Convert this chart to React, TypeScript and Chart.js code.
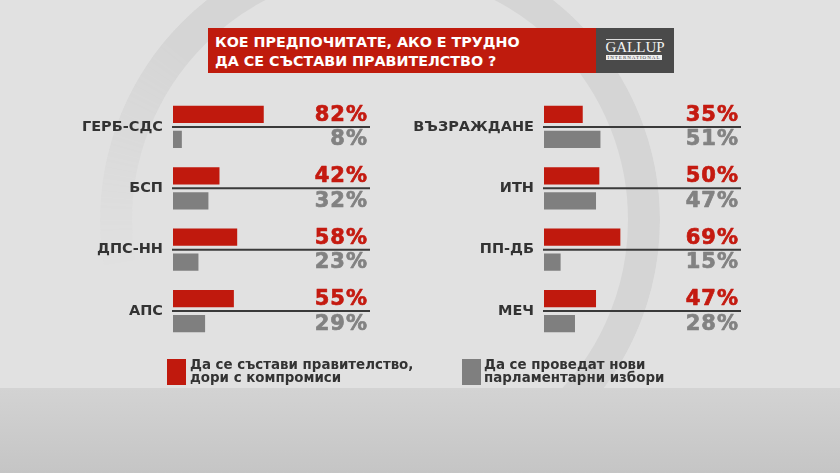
import React, { useEffect, useRef } from 'react';
import { Chart, registerables } from 'chart.js';

Chart.register(...registerables);

// ---- data ----
const leftParties = ['ГЕРБ-СДС', 'БСП', 'ДПС-НН', 'АПС'];
const leftGovernment = [82, 42, 58, 55];
const leftElections = [8, 32, 23, 29];

const rightParties = ['ВЪЗРАЖДАНЕ', 'ИТН', 'ПП-ДБ', 'МЕЧ'];
const rightGovernment = [35, 50, 69, 47];
const rightElections = [51, 47, 15, 28];

const seriesNames = ['Да се състави правителство, дори с компромиси', 'Да се проведат нови парламентарни избори'];
const legendLines = [['Да се състави правителство,', 'дори с компромиси'], ['Да се проведат нови', 'парламентарни избори']];
const titleLines = ['КОЕ ПРЕДПОЧИТАТЕ, АКО Е ТРУДНО', 'ДА СЕ СЪСТАВИ ПРАВИТЕЛСТВО ?'];

// ---- styles ----
const RED = '#c0190d';
const GRAY = '#7f7f7f';
const RED_TEXT = '#c41a10';
const GRAY_TEXT = '#828282';
const LINE = '#3a3a3a';
const LABEL = '#333333';
const X_MAX = 178;
const FONT = '"DejaVu Sans", sans-serif';

const percentPlugin = {
  id: 'percentLabels',
  afterDatasetsDraw(chart: any) {
    const { ctx, chartArea, scales } = chart;
    const y = scales.y;
    ctx.save();
    chart.data.labels.forEach((_: any, i: number) => {
      const py = y.getPixelForValue(i);
      ctx.strokeStyle = LINE;
      ctx.lineWidth = 2;
      ctx.beginPath();
      ctx.moveTo(chartArea.left - 1, py);
      ctx.lineTo(chartArea.right, py);
      ctx.stroke();
    });
    ctx.font = `bold 21px ${FONT}`;
    try { (ctx as any).letterSpacing = '1px'; } catch (e) {}
    ctx.textAlign = 'right';
    ctx.textBaseline = 'alphabetic';
    ctx.lineWidth = 0.7;
    ctx.lineJoin = 'round';
    chart.data.datasets.forEach((ds: any, di: number) => {
      ds.data.forEach((v: number, i: number) => {
        const py = y.getPixelForValue(i);
        const c = di === 0 ? RED_TEXT : GRAY_TEXT;
        ctx.fillStyle = c;
        ctx.strokeStyle = c;
        const ty = di === 0 ? py - 6 : py + 18.5;
        ctx.fillText(v + '%', chartArea.right - 2, ty);
        ctx.strokeText(v + '%', chartArea.right - 2, ty);
      });
    });
    ctx.restore();
  },
};

function makeConfig(labels: string[], gov: number[], elect: number[], yWidth: number, padRight: number): any {
  return {
    type: 'bar',
    data: {
      labels,
      datasets: [
        { label: seriesNames[0], data: gov, backgroundColor: RED, categoryPercentage: 0.815, barPercentage: 0.69 },
        { label: seriesNames[1], data: elect, backgroundColor: GRAY, categoryPercentage: 0.815, barPercentage: 0.69 },
      ],
    },
    options: {
      indexAxis: 'y',
      responsive: false,
      animation: false,
      devicePixelRatio: 1,
      layout: { padding: { left: 0, right: padRight, top: 6.3, bottom: 18.3 } },
      plugins: { legend: { display: false }, tooltip: { enabled: false } },
      scales: {
        x: { display: false, min: 0, max: X_MAX },
        y: {
          grid: { display: false, drawTicks: false },
          border: { display: false },
          ticks: { color: LABEL, padding: 10, font: { family: FONT, size: 14.5, weight: 'bold' } },
          afterFit: (scale: any) => {
            scale.width = yWidth;
            scale.paddingTop = 0;
            scale.paddingBottom = 0;
          },
        },
      },
    },
    plugins: [percentPlugin],
  };
}

function Panel({ labels, gov, elect, left, width, yWidth, padRight }: any) {
  const ref = useRef<HTMLCanvasElement>(null);
  useEffect(() => {
    const chart = new Chart(ref.current as HTMLCanvasElement, makeConfig(labels, gov, elect, yWidth, padRight));
    return () => chart.destroy();
  }, []);
  return (
    <canvas ref={ref} width={width} height={270}
      style={{ position: 'absolute', left, top: 90, width, height: 270 }} />
  );
}

const ringMask = 'conic-gradient(from 0deg, #000 0deg, #000 150deg, transparent 200deg, transparent 260deg, #000 310deg, #000 360deg)';

export default function App() {
  useEffect(() => { document.body.style.margin = '0'; }, []);
  const legendText: any = { position: 'absolute', top: 358, color: LABEL, fontWeight: 'bold', fontSize: 13.4, lineHeight: '13px', whiteSpace: 'nowrap' };
  return (
    <div style={{ position: 'relative', width: 840, height: 473, overflow: 'hidden', background: '#e1e1e1', fontFamily: FONT }}>
      <div style={{ position: 'absolute', left: 100, top: -60, width: 560, height: 560, borderRadius: '50%', border: '32px solid #d5d5d5', boxSizing: 'border-box', WebkitMaskImage: ringMask, maskImage: ringMask } as any} />
      <div style={{ position: 'absolute', left: 0, top: 388, width: 840, height: 85, background: 'linear-gradient(#d3d3d3, #c5c5c5)' }} />
      {/* title */}
      <div style={{ position: 'absolute', left: 208, top: 28, width: 388, height: 45, background: '#bf1b0d' }}>
        <div style={{ position: 'absolute', left: 7, top: 5.3, color: '#fff', fontWeight: 'bold', fontSize: 14.3, lineHeight: '19px', whiteSpace: 'nowrap' }}>
          {titleLines.map((t, i) => <div key={i}>{t}</div>)}
        </div>
      </div>
      <div style={{ position: 'absolute', left: 596, top: 28, width: 78, height: 45, background: '#4a4a4a' }}>
        <div style={{ position: 'absolute', left: 10, top: 11, width: 56, borderTop: '1px solid #ddd' }} />
        <div style={{ position: 'absolute', left: 0, top: 12, width: 78, textAlign: 'center', color: '#f2f2f2', fontFamily: '"Liberation Serif", serif', fontSize: 15, lineHeight: '15px' }}>GALLUP</div>
        <div style={{ position: 'absolute', left: 10, top: 27, width: 56, height: 5, background: '#eee', color: '#333', fontFamily: '"Liberation Serif", serif', fontSize: 5, lineHeight: '5px', textAlign: 'center', letterSpacing: 1, overflow: 'hidden' }}>INTERNATIONAL</div>
      </div>
      <Panel labels={leftParties} gov={leftGovernment} elect={leftElections} left={0} width={420} yWidth={173} padRight={50} />
      <Panel labels={rightParties} gov={rightGovernment} elect={rightElections} left={380} width={460} yWidth={164} padRight={99} />
      {/* legend */}
      <div style={{ position: 'absolute', left: 167, top: 359, width: 19, height: 26, background: RED }} />
      <div style={{ ...legendText, left: 190 }}>
        {legendLines[0].map((t, i) => <div key={i}>{t}</div>)}
      </div>
      <div style={{ position: 'absolute', left: 462, top: 359, width: 19, height: 26, background: GRAY }} />
      <div style={{ ...legendText, left: 484 }}>
        {legendLines[1].map((t, i) => <div key={i}>{t}</div>)}
      </div>
    </div>
  );
}
